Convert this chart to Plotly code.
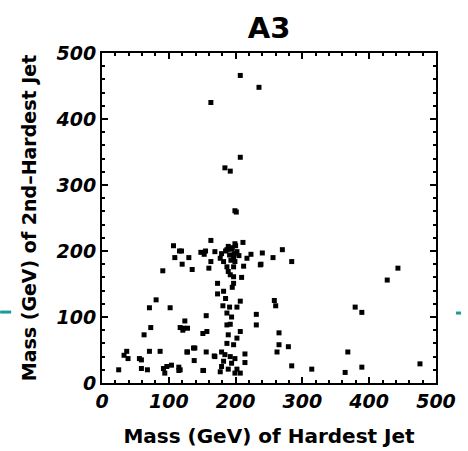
import plotly.graph_objects as go

# Mass (GeV) of hardest jet (x) and 2nd-hardest jet (y)
mass_hardest = [
    207, 235, 163, 207, 184, 192, 199, 201,
    107, 116, 109, 130, 120, 135, 91, 163, 211, 240, 238,
    199, 189, 119, 148, 155, 153, 169, 179, 187, 194, 202, 191, 197, 223, 217,
    177, 182, 199, 163, 160, 187, 197, 237, 212, 189, 192, 197, 209,
    195, 200, 185, 205, 193, 198, 190,
    197, 173, 182, 173, 207, 181, 191, 202, 187, 194, 231, 124, 156,
    187, 192, 231, 122, 128, 207, 151, 157, 189, 202, 187, 197,
    139, 128, 156, 179, 169, 184, 192, 199, 214, 138, 214, 182, 194,
    179, 189, 202, 177, 151, 199, 207, 117, 185, 195,
    81, 71, 102, 73, 63, 117, 121,
    37, 33, 39, 71, 87, 56, 59, 25, 59, 68, 92, 97, 104, 94, 115, 115,
    127, 137, 152, 168,
    256, 270, 284, 258, 260, 427, 443, 379, 389,
    265, 265, 262, 279, 284, 314, 368, 364, 389, 476,
]
mass_2nd = [
    466, 448, 425, 342, 326, 321, 261, 259,
    208, 200, 190, 190, 180, 172, 170, 216, 213, 197, 180,
    211, 207, 200, 198, 200, 195, 199, 196, 202, 203, 199, 194, 190, 195, 189,
    189, 184, 184, 184, 174, 176, 176, 179, 177, 169, 164, 161, 160,
    205, 208, 200, 193, 186, 196, 203,
    151, 151, 139, 135, 124, 117, 115, 115, 106, 100, 104, 94, 102,
    88, 89, 88, 83, 83, 78, 75, 78, 73, 68, 60, 58,
    53, 47, 47, 47, 40, 43, 40, 37, 44, 34, 31, 33, 30,
    25, 21, 21, 17, 19, 15, 15, 20, 128, 145,
    126, 114, 114, 84, 73, 84, 80,
    48, 42, 37, 48, 48, 37, 35, 20, 22, 20, 22, 25, 27, 15, 24, 19,
    47, 53, 19, 41,
    190, 202, 184, 125, 117, 156, 174, 115, 107,
    76, 58, 47, 55, 26, 21, 47, 16, 24, 29,
]

title_text = "A3"
x_title = "Mass (GeV) of Hardest Jet"
y_title = "Mass (GeV) of 2nd–Hardest Jet"
tick_vals = [0, 100, 200, 300, 400, 500]

FONT = "DejaVu Sans, Verdana, sans-serif"

fig = go.Figure(
    go.Scatter(
        x=mass_hardest, y=mass_2nd, mode="markers",
        marker=dict(symbol="square", size=5, color="black", line=dict(width=0)),
        hoverinfo="x+y",
    )
)

axis_common = dict(
    range=[0, 500], tickvals=tick_vals, ticks="inside", ticklen=6, tickwidth=2,
    tickcolor="black", showline=True, linecolor="black", linewidth=2, mirror="allticks",
    showgrid=False, zeroline=False, automargin=False,
    tickfont=dict(family=FONT, size=19, color="black", weight="bold", style="italic"),
    minor=dict(dtick=20, ticks="inside", ticklen=3, tickwidth=2, tickcolor="black",
               showgrid=False),
)

fig.update_layout(
    width=468, height=451,
    margin=dict(l=102, r=32, t=53, b=68, autoexpand=False),
    paper_bgcolor="white", plot_bgcolor="white",
    showlegend=False,
    title=dict(text=title_text, x=0.5, xref="paper", y=1, yref="paper", yanchor="bottom",
               pad=dict(b=15),
               font=dict(family=FONT, size=29, color="black", weight="bold")),
    xaxis=dict(**axis_common,
               title=dict(text=x_title, standoff=18,
                          font=dict(family=FONT, size=20, color="black", weight="bold"))),
    yaxis=dict(**axis_common,
               title=dict(text=y_title, standoff=14,
                          font=dict(family=FONT, size=19, color="black", weight="bold"))),
    shapes=[
        dict(type="line", xref="paper", yref="paper", x0=-0.305, x1=-0.272,
             y0=0.215, y1=0.215, line=dict(color="#1a9a9a", width=3)),
        dict(type="line", xref="paper", yref="paper", x0=1.06, x1=1.075,
             y0=0.212, y1=0.212, line=dict(color="#1a9a9a", width=3)),
    ],
)

fig.write_html("out.html", config={"displayModeBar": False},
               post_script="document.body.style.margin='0px';")
